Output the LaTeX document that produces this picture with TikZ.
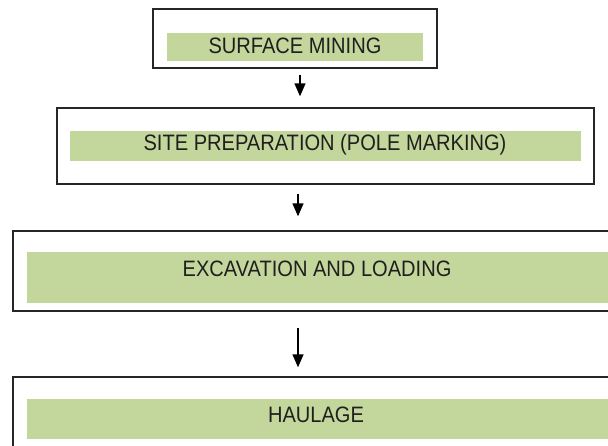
\documentclass[tikz,border=0pt]{standalone}
\usepackage{fontspec}
\setmainfont{Liberation Sans}
\usetikzlibrary{arrows.meta,positioning,calc}
\definecolor{vertbarre}{HTML}{C3D69B}
\newcommand{\serre}[1]{\scalebox{0.9}[1]{#1}}
\tikzset{
  cadre/.style={draw=black!85,line width=1.4pt,inner sep=0pt},
  barre/.style={fill=vertbarre,inner sep=0pt},
  etiq/.style={font=\fontsize{22.3}{26}\selectfont,text=black!88,inner sep=0pt},
  fl/.style={-{Triangle[length=13pt,width=11pt]},line width=1.4pt,black},
}
\begin{document}
\begin{tikzpicture}[x=1pt,y=-1pt]
  \useasboundingbox (0,0) rectangle (608,445);
  \clip (0,0) rectangle (608,445);
  % etapes
  \node[cadre,minimum width=284,minimum height=59] (fr1) at (295,38.5) {};
  \node[barre,minimum width=256,minimum height=28] (b1) at (295,47) {};
  \node[etiq] (t1) at (295,46) {\serre{SURFACE MINING}};
  \node[cadre,minimum width=537,minimum height=76] (fr2) at (325.5,146) {};
  \node[barre,minimum width=511,minimum height=30] (b2) at (325.5,146) {};
  \node[etiq] (t2) at (325,145) {\serre{SITE PREPARATION (POLE MARKING)}};
  \node[cadre,minimum width=627,minimum height=80] (fr3) at (326.5,271) {};
  \node[barre,minimum width=599,minimum height=51] (b3) at (326.5,277.5) {};
  \node[etiq] (t3) at (317,268.5) {\serre{EXCAVATION AND LOADING}};
  \node[cadre,minimum width=627,minimum height=93] (fr4) at (326.5,423.5) {};
  \node[barre,minimum width=599,minimum height=40] (b4) at (326.5,419) {};
  \node[etiq] (t4) at (316,414.5) {\serre{HAULAGE}};
  % fleches
  \coordinate (colA) at (300,0);
  \coordinate (colB) at (298,0);
  \draw[fl,shorten <=6pt,shorten >=11pt] (fr1.south -| colA) -- (fr2.north -| colA);
  \draw[fl,shorten <=9pt,shorten >=14pt] (fr2.south -| colB) -- (fr3.north -| colB);
  \draw[fl,shorten <=16pt,shorten >=9pt] (fr3.south -| colB) -- (fr4.north -| colB);
\end{tikzpicture}
\end{document}
